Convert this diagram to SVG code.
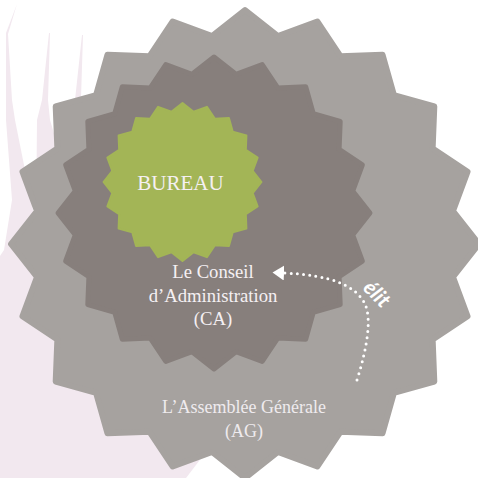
<svg xmlns="http://www.w3.org/2000/svg" width="478" height="478" viewBox="0 0 478 478">
<style>
.serif{font-family:"Liberation Serif","DejaVu Serif",serif;text-anchor:middle}
.lbl{fill:#f5f0f3}
.star{stroke-linejoin:round}
.dots{fill:none;stroke:#ffffff;stroke-width:3;stroke-linecap:round;stroke-dasharray:0 6.2}
.script{font-family:"Lato","Noto Sans",sans-serif;font-style:italic;font-weight:bold;fill:#ffffff;text-anchor:middle}
</style>
<defs>
<polygon id="star" points="0,-100 14.08,-88.89 30.9,-95.11 40.86,-80.19 58.78,-80.9 63.64,-63.64 80.9,-58.78 80.19,-40.86 95.11,-30.9 88.89,-14.08 100,0 88.89,14.08 95.11,30.9 80.19,40.86 80.9,58.78 63.64,63.64 58.78,80.9 40.86,80.19 30.9,95.11 14.08,88.89 0,100 -14.08,88.89 -30.9,95.11 -40.86,80.19 -58.78,80.9 -63.64,63.64 -80.9,58.78 -80.19,40.86 -95.11,30.9 -88.89,14.08 -100,0 -88.89,-14.08 -95.11,-30.9 -80.19,-40.86 -80.9,-58.78 -63.64,-63.64 -58.78,-80.9 -40.86,-80.19 -30.9,-95.11 -14.08,-88.89"/>
<marker id="arrow" markerUnits="userSpaceOnUse" viewBox="0 0 12 15" markerWidth="12" markerHeight="15" refX="0" refY="7.5" orient="auto">
<path d="M0,0 L11.5,7.5 L0,15 Z" fill="#ffffff"/>
</marker>
</defs>
<rect width="478" height="478" fill="#ffffff"/>
<polygon id="background" fill="#f2e8ef" points="0,478 0,256 4,250 12,200 6,120 6,33 17,4 8,34 12,100 15,120 36,225 37,120 42,100 49,33 50,33 48,100 50,120 65,170 75,100 82,35 83,35 81,98 120,150 330,290 186,478"/>
<g id="ag">
<use href="#star" class="star" transform="translate(245,244) scale(2.34)" fill="#a6a29f" stroke="#a6a29f" stroke-width="2.56"/>
<text class="serif" x="244" y="413" font-size="18" fill="#efebee">L’Assemblée Générale</text>
<text class="serif" x="244" y="437" font-size="18" fill="#efebee">(AG)</text>
</g>
<g id="ca">
<use href="#star" class="star" transform="translate(214,213) scale(1.56)" fill="#877f7c" stroke="#877f7c" stroke-width="3.2"/>
<text class="serif lbl" x="213" y="278" font-size="18.7">Le Conseil</text>
<text class="serif lbl" x="213" y="302" font-size="18.7">d’Administration</text>
<text class="serif lbl" x="213" y="325" font-size="18.7">(CA)</text>
</g>
<g id="bureau">
<use href="#star" class="star" transform="translate(182.5,182) scale(0.79)" fill="#a3b556" stroke="#a3b556" stroke-width="2.5"/>
<text class="serif lbl" x="180.5" y="190" font-size="21">BUREAU</text>
</g>
<g id="connectors">
<path class="dots" d="M357,380 C368,345 372,316 364,302 C354,285 330,275 284,273" marker-end="url(#arrow)"/>
<text class="script" transform="translate(372,299) rotate(45)" font-size="21">élit</text>
</g>
</svg>
